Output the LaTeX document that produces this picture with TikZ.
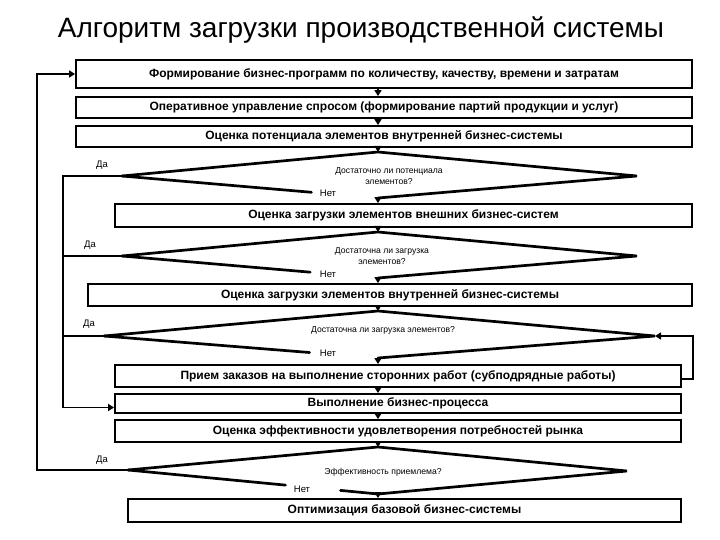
\documentclass[tikz,border=0pt]{standalone}
\usepackage{fontspec}
\setmainfont{Liberation Sans}
\usetikzlibrary{arrows.meta,calc}
\begin{document}
\begin{tikzpicture}[x=1pt,y=-1pt,
  box/.style={draw,line width=1.8pt,fill=white,font=\bfseries\fontsize{12}{14}\selectfont,inner sep=0pt},
  edge/.style={line width=2.7pt,line cap=round},
  loopline/.style={line width=1.8pt},
  arr/.style={line width=1.8pt,-{Triangle[width=7pt,length=6pt]}},
  q/.style={font=\fontsize{8.6}{11}\selectfont,align=center,inner sep=0pt},
  yn/.style={font=\fontsize{9.5}{10}\selectfont,inner sep=0pt}]
\useasboundingbox (0,0) rectangle (720,540);

\node[font=\fontsize{28}{32}\selectfont] (title) at (361,30) {Алгоритм загрузки производственной системы};

% axis coordinates
\coordinate (ax) at (378,0);
\coordinate (lx) at (63,0);
\coordinate (ox) at (37,0);
\coordinate (rx) at (693,0);

% boxes
\node[box,minimum width=616,minimum height=28] (b1) at (384,74) {Формирование бизнес-программ по количеству, качеству, времени и затратам};
\node[box,minimum width=616,minimum height=21] (b2) at (384,107.5) {Оперативное управление спросом (формирование партий продукции и услуг)};
\node[box,minimum width=616,minimum height=21] (b3) at (384,136.5) {Оценка потенциала элементов внутренней бизнес-системы};
\node[box,minimum width=577,minimum height=23] (b4) at (403.5,215.5) {Оценка загрузки элементов внешних бизнес-систем};
\node[box,minimum width=604,minimum height=22] (b5) at (390,295) {Оценка загрузки элементов внутренней бизнес-системы};
\node[box,minimum width=566,minimum height=22] (b6) at (398,376) {Прием заказов на выполнение сторонних работ (субподрядные работы)};
\node[box,minimum width=566,minimum height=19] (b7) at (398,403.5) {Выполнение бизнес-процесса};
\node[box,minimum width=566,minimum height=22] (b8) at (398,431) {Оценка эффективности удовлетворения потребностей рынка};
\node[box,minimum width=553,minimum height=23] (b9) at (404.5,510.5) {Оптимизация базовой бизнес-системы};

% decision vertices
\coordinate (d1w) at (122,176); \coordinate (d1n) at (378,152); \coordinate (d1e) at (637,176); \coordinate (d1s) at (378,198);
\coordinate (d2w) at (122,256); \coordinate (d2n) at (378,232); \coordinate (d2e) at (637,256); \coordinate (d2s) at (378,278);
\coordinate (d3w) at (104,336); \coordinate (d3n) at (378,311); \coordinate (d3e) at (655,336); \coordinate (d3s) at (378,358);
\coordinate (d4w) at (128,470); \coordinate (d4n) at (378,447); \coordinate (d4e) at (627,471); \coordinate (d4s) at (378,494);

% decision outlines
\draw[edge] (d1w) -- (d1n) -- (d1e) -- (d1s);
\draw[edge] (d1w) -- ($(d1w)!0.74!(d1s)$);
\draw[edge] (d2w) -- (d2n) -- (d2e) -- (d2s);
\draw[edge] (d2w) -- ($(d2w)!0.735!(d2s)$);
\draw[edge] (d3w) -- (d3n) -- (d3e) -- (d3s);
\draw[edge] (d3w) -- ($(d3w)!0.75!(d3s)$);
\draw[edge] (d4w) -- (d4n) -- (d4e) -- (d4s) -- ($(d4w)!0.85!(d4s)$);
\draw[edge] (d4w) -- ($(d4w)!0.63!(d4s)$);

% questions
\node[q] (q1) at (389,176) {Достаточно ли потенциала\\элементов?};
\node[q] (q2) at (382,256) {Достаточна ли загрузка\\элементов?};
\node[q] (q3) at (383,330) {Достаточна ли загрузка элементов?};
\node[q] (q4) at (383,472) {Эффективность приемлема?};

% yes / no labels
\node[yn] (y1) at (102,165) {Да};
\node[yn] (y2) at (90,245) {Да};
\node[yn] (y3) at (89,324) {Да};
\node[yn] (y4) at (102,460) {Да};
\node[yn] (n1) at (328,193) {Нет};
\node[yn] (n2) at (328,274) {Нет};
\node[yn] (n3) at (328,353) {Нет};
\node[yn] (n4) at (302,489) {Нет};

% main flow arrows
\draw[arr] (b1.south -| ax) -- (b2.north -| ax);
\draw[arr] (b2.south -| ax) -- (b3.north -| ax);
\draw[arr] (b3.south -| ax) -- (d1n);
\draw[arr] (d1s) -- (b4.north -| ax);
\draw[arr] (b4.south -| ax) -- (d2n);
\draw[arr] (d2s) -- (b5.north -| ax);
\draw[arr] (b5.south -| ax) -- (d3n);
\draw[arr] (d3s) -- (b6.north -| ax);
\draw[arr] (b6.south -| ax) -- (b7.north -| ax);
\draw[arr] (b7.south -| ax) -- (b8.north -| ax);
\draw[arr] (b8.south -| ax) -- (d4n);
\draw[arr] (d4s) -- (b9.north -| ax);

% yes loops
\draw[arr] (d1w) -- (d1w -| lx) |- ([yshift=-4pt]b7.west);
\draw[loopline] (d2w) -- (d2w -| lx);
\draw[loopline] (d3w) -- (d3w -| lx);
\draw[arr] (d4w) -- (d4w -| ox) |- (b1.west);

% return from subcontracting
\draw[arr] ([yshift=-3pt]b6.east) -| (rx |- d3e) -- (d3e);
\end{tikzpicture}
\end{document}
